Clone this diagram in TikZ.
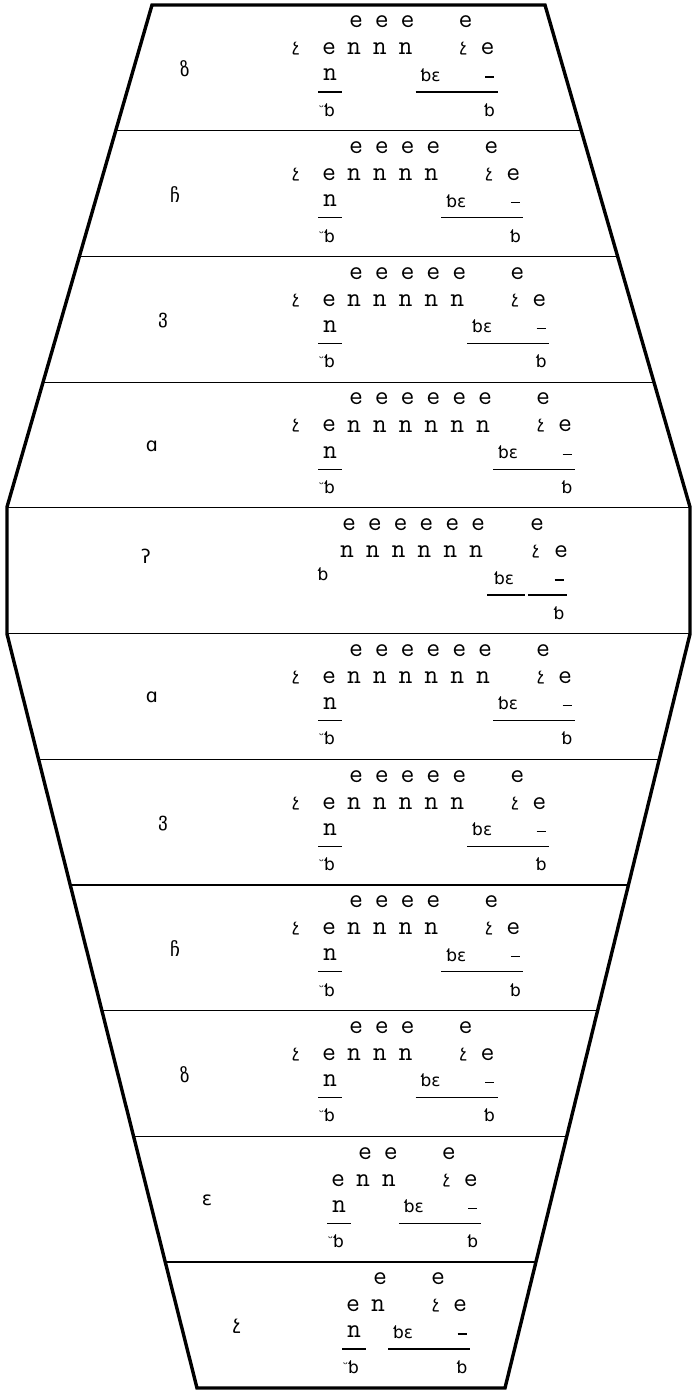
\documentclass[tikz,border=0pt]{standalone}
\usepackage{fontspec}
\newfontfamily\dv{DejaVu Sans}
\newfontfamily\lmt{Latin Modern Mono}
\newcommand\tsz{\fontsize{27}{27}\selectfont}
\newcommand\dsz{\fontsize{17}{17}\selectfont}
\newcommand\GE{{\lmt\tsz e}}
\newcommand\GH{{\lmt\tsz n}}
\newcommand\GB{{\dv\dsz ƅ}}
\newcommand\GC{{\dv\dsz չ}}
\newcommand\GT{{\dv\dsz ɛ}}
\newcommand\GU{\raisebox{5pt}{\dv\fontsize{12}{12}\selectfont ᵕ}}
\tikzset{
  outline/.style={line width=3.4pt, line join=miter},
  sep/.style={line width=1.2pt},
  fbar/.style={line width=1.1pt},
  g/.style={inner sep=0pt},
  lab/.style={inner sep=0pt, font=\dv\fontsize{19}{19}\selectfont},
}
\newcommand\stdrow[7]{%
  % #1 id, #2 top, #3 n, #4 label x, #5 label, #6 lead e x, #7 show lead
  \node[lab] (r#1-lab) at (#4,#2+64) {#5};
  \ifnum#7=1 \node[g] (r#1-c0) at (#6-33,#2+44) {\GC};\fi
  \node[g] (r#1-e0) at (#6,#2+44) {\GE};
  \node[g] (r#1-fn) at (#6+1,#2+70) {\GH};
  \draw[fbar] (#6-11,#2+87) -- (#6+13,#2+87);
  \node[g] (r#1-fd) at (#6-2,#2+105) {\GU\GB};
  \foreach \i in {1,...,#3}{%
    \node[g] (r#1-h\i) at ({#6+25+25.8*(\i-1)},#2+44) {\GH};
    \node[g] (r#1-s\i) at ({#6+27+25.8*(\i-1)},#2+17) {\GE};
  }
  \pgfmathsetmacro\lx{#6+25+25.8*(#3-1)}
  \node[g] (r#1-c1) at (\lx+58,#2+44) {\GC};
  \node[g] (r#1-e1) at (\lx+82,#2+44) {\GE};
  \node[g] (r#1-s0) at (\lx+60,#2+17) {\GE};
  \node[g] (r#1-bt) at (\lx+25,#2+70) {\GB\GT};
  \node[g] (r#1-m) at (\lx+84,#2+72) {\rule{9pt}{1.1pt}};
  \draw[fbar] (\lx+10,#2+87) -- (\lx+92,#2+87);
  \node[g] (r#1-b) at (\lx+84,#2+105) {\GB};
}
\begin{document}
\begin{tikzpicture}[x=1pt,y=-1pt]
\useasboundingbox (0,0) rectangle (693,1390);
\coordinate (p1) at (152,5);
\coordinate (p2) at (545,5);
\coordinate (p3) at (690,507);
\coordinate (p4) at (690,634);
\coordinate (p5) at (505,1388);
\coordinate (p6) at (197,1388);
\coordinate (p7) at (7,634);
\coordinate (p8) at (7,507);
\begin{scope}
  \clip (p1)--(p2)--(p3)--(p4)--(p5)--(p6)--(p7)--(p8)--cycle;
  \foreach \k in {1,...,10}{\draw[sep] (0,{5+125.7*\k}) -- (693,{5+125.7*\k});}
\end{scope}
\draw[outline] (p1)--(p2)--(p3)--(p4)--(p5)--(p6)--(p7)--(p8)--cycle;
\stdrow{1}{5}{3}{185}{ზ}{329}{1}
\stdrow{2}{130.7}{4}{175}{ჩ}{329}{1}
\stdrow{3}{256.4}{5}{163}{ვ}{329}{1}
\stdrow{4}{382.1}{6}{152}{ɑ}{329}{1}
% middle row
\node[lab] (r5-lab) at (146,556) {ʔ};
\node[g] (r5-b0) at (323,574) {\GB};
\foreach \i in {1,...,6}{%
  \node[g] (r5-h\i) at ({347+25.8*(\i-1)},552) {\GH};
  \node[g] (r5-s\i) at ({349+25.8*(\i-1)},525) {\GE};
}
\node[g] (r5-c1) at (536,552) {\GC};
\node[g] (r5-e1) at (561,552) {\GE};
\node[g] (r5-s0) at (537,525) {\GE};
\node[g] (r5-bt) at (504,578) {\GB\GT};
\node[g] (r5-m) at (559,580) {\rule{9pt}{1.1pt}};
\draw[fbar] (487,595) -- (525,595);
\draw[fbar] (528,595) -- (567,595);
\node[g] (r5-b) at (559,613) {\GB};
\stdrow{6}{633.5}{6}{152}{ɑ}{329}{1}
\stdrow{7}{759.2}{5}{163}{ვ}{329}{1}
\stdrow{8}{884.9}{4}{175}{ჩ}{329}{1}
\stdrow{9}{1010.6}{3}{185}{ზ}{329}{1}
\stdrow{10}{1136.3}{2}{207}{ɛ}{338}{0}
\stdrow{11}{1262}{1}{237}{չ}{353}{0}
\end{tikzpicture}
\end{document}
